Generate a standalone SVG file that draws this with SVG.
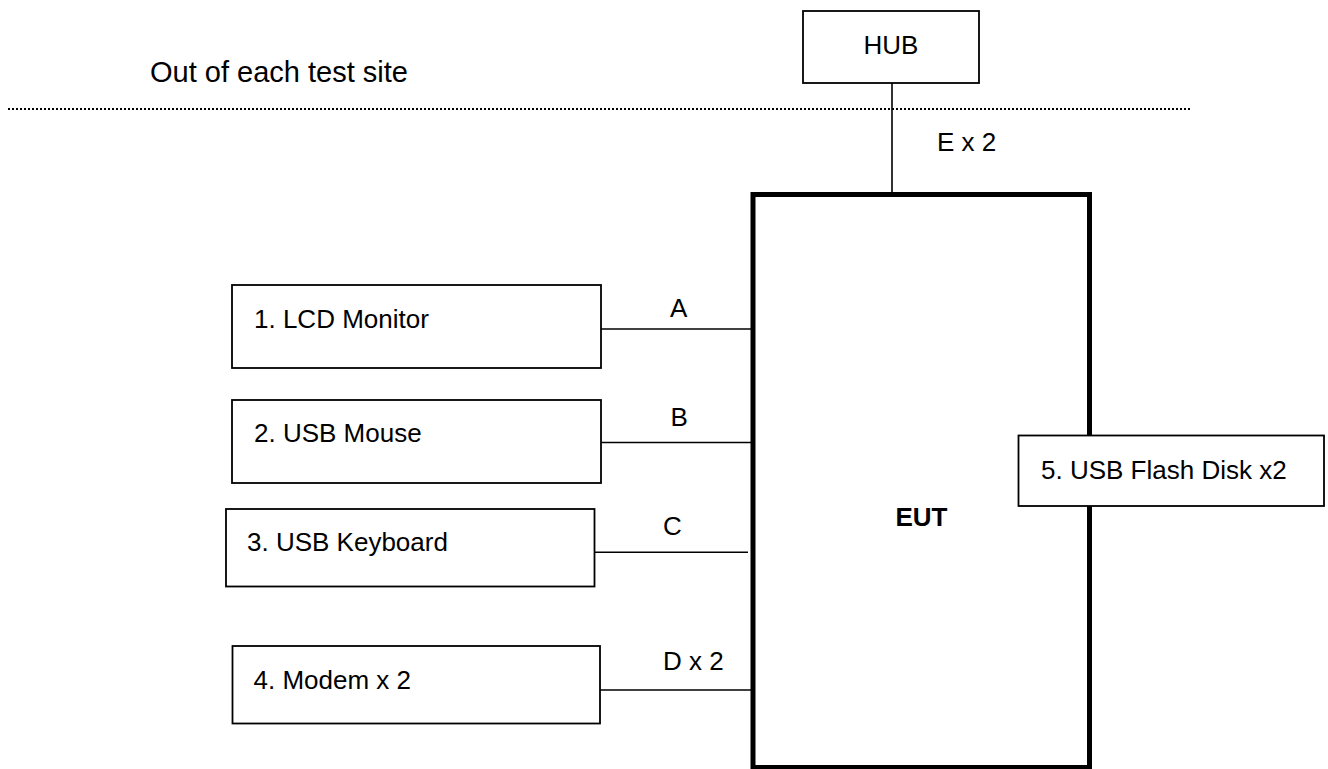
<svg xmlns="http://www.w3.org/2000/svg" width="1328" height="769" viewBox="0 0 1328 769">
  <style>
    .box { fill: #ffffff; stroke: #000000; stroke-width: 1.8; }
    .eut { fill: none; stroke: #000000; stroke-width: 5; }
    .wire { stroke: #000000; stroke-width: 1.6; fill: none; }
    .border { stroke: #000000; stroke-width: 2; stroke-dasharray: 2 2; fill: none; }
    .lbl { font-family: "Liberation Sans", Arial, sans-serif; font-size: 26px; fill: #000000; }
    .title { font-family: "Liberation Sans", Arial, sans-serif; font-size: 29px; fill: #000000; }
    .bold { font-weight: bold; }
  </style>
  <rect width="1328" height="769" fill="#ffffff"/>

  <!-- site boundary -->
  <g id="site-boundary">
    <text class="title" x="150" y="81.5">Out of each test site</text>
    <line class="border" x1="8" y1="109" x2="1192" y2="109"/>
  </g>

  <!-- cables -->
  <g id="connectors">
    <line class="wire" x1="892" y1="83" x2="892" y2="194"/>
    <text class="lbl" x="937" y="151">E x 2</text>
    <line class="wire" x1="601" y1="329" x2="751" y2="329"/>
    <text class="lbl" x="670" y="316.5">A</text>
    <line class="wire" x1="601" y1="442.5" x2="751" y2="442.5"/>
    <text class="lbl" x="670.5" y="425.5">B</text>
    <line class="wire" x1="594.5" y1="552.3" x2="748" y2="552.3"/>
    <text class="lbl" x="663" y="535">C</text>
    <line class="wire" x1="600" y1="690" x2="751" y2="690"/>
    <text class="lbl" x="663" y="670">D x 2</text>
  </g>

  <g id="eut">
    <rect class="eut" x="753" y="194.5" width="336.5" height="573"/>
    <text class="lbl bold" x="921.5" y="526" text-anchor="middle">EUT</text>
  </g>

  <g id="hub">
    <rect class="box" x="803" y="11" width="176" height="72"/>
    <text class="lbl" x="891" y="54" text-anchor="middle">HUB</text>
  </g>

  <g id="lcd-monitor">
    <rect class="box" x="232" y="285" width="369" height="83"/>
    <text class="lbl" x="254" y="327.5">1. LCD Monitor</text>
  </g>

  <g id="usb-mouse">
    <rect class="box" x="232" y="400" width="369" height="83"/>
    <text class="lbl" x="254" y="441.5">2. USB Mouse</text>
  </g>

  <g id="usb-keyboard">
    <rect class="box" x="226" y="509" width="368.5" height="77.5"/>
    <text class="lbl" x="247" y="551">3. USB Keyboard</text>
  </g>

  <g id="modem">
    <rect class="box" x="232.5" y="646" width="367.5" height="77.5"/>
    <text class="lbl" x="253.5" y="688.5">4. Modem x 2</text>
  </g>

  <g id="usb-flash-disk">
    <rect class="box" x="1018.5" y="435.5" width="305.5" height="70.5"/>
    <text class="lbl" x="1041" y="478.5">5. USB Flash Disk x2</text>
  </g>
</svg>
